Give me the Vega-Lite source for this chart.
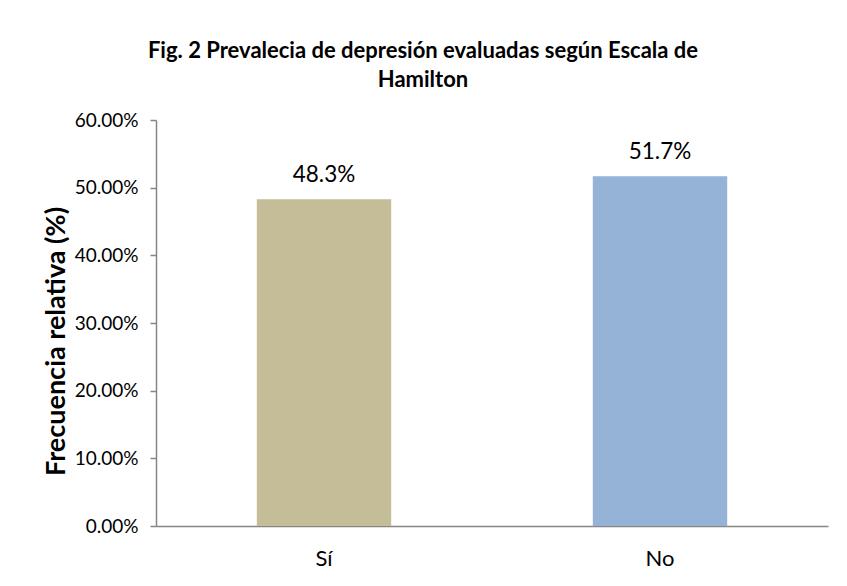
{
  "$schema": "https://vega.github.io/schema/vega-lite/v6.json",
  "autosize": {"type": "none"},
  "width": 672,
  "height": 406,
  "padding": {"left": 156, "top": 120, "right": 19, "bottom": 60},
  "background": "white",
  "title": {
    "text": ["Fig. 2 Prevalecia de depresión evaluadas según Escala de", "Hamilton"],
    "font": "Lato",
    "fontSize": 22,
    "fontWeight": "bold",
    "color": "#000000",
    "anchor": "middle",
    "frame": "group",
    "dx": -69,
    "lineHeight": 29,
    "offset": 19
  },
  "data": {
    "values": [
      {"cat": "Sí", "value": 0.483},
      {"cat": "No", "value": 0.517}
    ]
  },
  "encoding": {
    "x": {
      "field": "cat",
      "type": "nominal",
      "sort": ["Sí", "No"],
      "scale": {"paddingInner": 0.6, "paddingOuter": 0.3},
      "axis": {
        "title": null,
        "labelAngle": 0,
        "labelFont": "Lato",
        "labelFontSize": 22,
        "labelColor": "#000000",
        "labelPadding": 22,
        "ticks": false,
        "domainColor": "#868686",
        "domainWidth": 1.5
      }
    },
    "y": {
      "field": "value",
      "type": "quantitative",
      "scale": {"domain": [0, 0.6]},
      "axis": {
        "title": "Frecuencia relativa (%)",
        "titleFont": "Lato",
        "titleFontSize": 27,
        "titleFontWeight": "bold",
        "titleColor": "#000000",
        "titleX": -100,
        "titleY": 221,
        "titleAngle": -90,
        "titleAlign": "center",
        "titleBaseline": "middle",
        "values": [0, 0.1, 0.2, 0.3, 0.4, 0.5, 0.6],
        "format": ".2%",
        "labelFont": "Lato",
        "labelFontSize": 19,
        "labelColor": "#000000",
        "labelPadding": 12,
        "tickSize": 6,
        "tickColor": "#868686",
        "tickWidth": 1.5,
        "domainColor": "#868686",
        "domainWidth": 1.5,
        "grid": false
      }
    }
  },
  "layer": [
    {
      "mark": {"type": "bar"},
      "encoding": {
        "color": {
          "field": "cat",
          "type": "nominal",
          "scale": {"domain": ["Sí", "No"], "range": ["#C4BD97", "#95B3D7"]},
          "legend": null
        }
      }
    },
    {
      "mark": {"type": "text", "baseline": "alphabetic", "dy": -17, "font": "Lato", "fontSize": 22.5, "color": "#000000"},
      "encoding": {
        "text": {"field": "value", "type": "quantitative", "format": ".1%"}
      }
    }
  ],
  "config": {
    "view": {"stroke": null}
  }
}
